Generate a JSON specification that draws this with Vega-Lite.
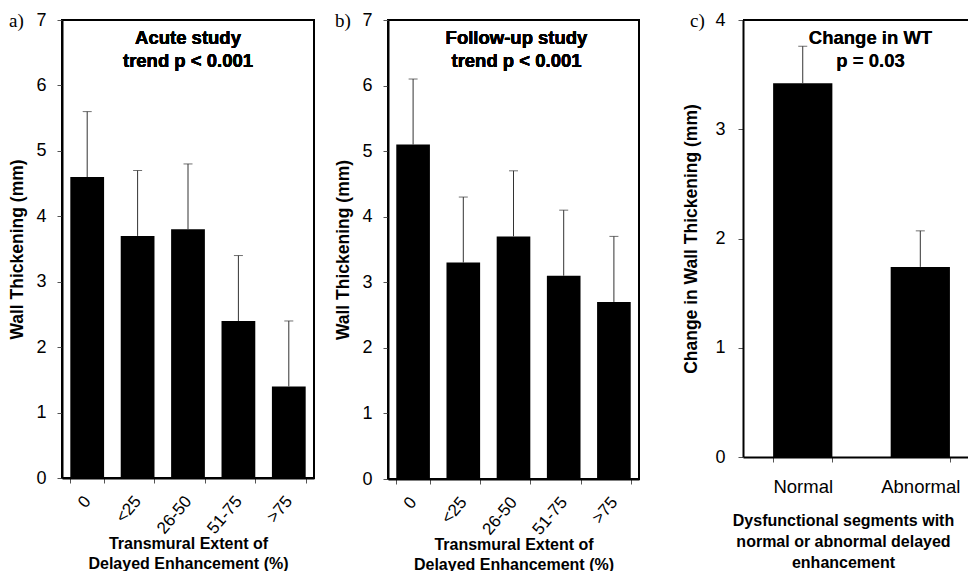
{
  "$schema": "https://vega.github.io/schema/vega-lite/v6.json",
  "padding": {"left": 7, "top": 10, "right": 0, "bottom": 0},
  "background": "white",
  "datasets": {
    "acute": [
      {"g": "0", "mean": 4.6, "upper": 5.6},
      {"g": "<25", "mean": 3.7, "upper": 4.7},
      {"g": "26-50", "mean": 3.8, "upper": 4.8},
      {"g": "51-75", "mean": 2.4, "upper": 3.4},
      {"g": ">75", "mean": 1.4, "upper": 2.4}
    ],
    "followup": [
      {"g": "0", "mean": 5.1, "upper": 6.1},
      {"g": "<25", "mean": 3.3, "upper": 4.3},
      {"g": "26-50", "mean": 3.7, "upper": 4.7},
      {"g": "51-75", "mean": 3.1, "upper": 4.1},
      {"g": ">75", "mean": 2.7, "upper": 3.7}
    ],
    "change": [
      {"g": "Normal", "mean": 3.42, "upper": 3.76},
      {"g": "Abnormal", "mean": 1.74, "upper": 2.07}
    ]
  },
  "spacing": 18,
  "hconcat": [
    {
      "title": {"text": "a)", "anchor": "start", "frame": "bounds", "font": "Liberation Serif", "fontSize": 19, "fontWeight": "normal", "offset": -20, "color": "black"},
      "width": 252,
      "height": 458,
      "data": {"name": "acute"},
      "layer": [
        {
          "mark": {"type": "bar", "color": "black"},
          "encoding": {
            "x": {"field": "g", "type": "nominal", "sort": null,
              "scale": {"paddingInner": 0.33, "paddingOuter": 0.165},
              "axis": {"title": ["Transmural Extent of", "Delayed Enhancement (%)"], "labelAngle": -50, "labelFontSize": 17, "labelPadding": 15, "tickBand": "extent", "titlePadding": -1, "titleFontSize": 16, "titleLineHeight": 20}},
            "y": {"field": "mean", "type": "quantitative",
              "scale": {"domain": [0, 7], "nice": false},
              "axis": {"title": "Wall Thickening (mm)", "values": [0, 1, 2, 3, 4, 5, 6, 7], "format": "d", "labelPadding": 11, "titlePadding": 9}}
          }
        },
        {
          "mark": {"type": "rule", "color": "#333", "strokeWidth": 1},
          "encoding": {
            "x": {"field": "g", "type": "nominal", "sort": null},
            "y": {"field": "mean", "type": "quantitative"},
            "y2": {"field": "upper"}
          }
        },
        {
          "mark": {"type": "tick", "color": "#333", "thickness": 1, "size": 9},
          "encoding": {
            "x": {"field": "g", "type": "nominal", "sort": null},
            "y": {"field": "upper", "type": "quantitative"}
          }
        },
        {
          "mark": {"type": "text", "fontWeight": "bold", "fontSize": 18.5, "lineHeight": 23, "baseline": "middle", "align": "center", "color": "black"},
          "encoding": {
            "y": {"datum": 6.725, "type": "quantitative"},
            "text": {"value": ["Acute study", "trend p < 0.001"]}
          }
        }
      ]
    },
    {
      "spacing": 42,
      "hconcat": [
        {
          "title": {"text": "b)", "anchor": "start", "frame": "bounds", "font": "Liberation Serif", "fontSize": 19, "fontWeight": "normal", "offset": -20, "color": "black"},
          "width": 251,
          "height": 459,
          "data": {"name": "followup"},
          "layer": [
            {
              "mark": {"type": "bar", "color": "black"},
              "encoding": {
                "x": {"field": "g", "type": "nominal", "sort": null,
                  "scale": {"paddingInner": 0.33, "paddingOuter": 0.165},
                  "axis": {"title": ["Transmural Extent of", "Delayed Enhancement (%)"], "labelAngle": -50, "labelFontSize": 17, "labelPadding": 15, "tickBand": "extent", "titlePadding": -1, "titleFontSize": 16, "titleLineHeight": 20}},
                "y": {"field": "mean", "type": "quantitative",
                  "scale": {"domain": [0, 7], "nice": false},
                  "axis": {"title": "Wall Thickening (mm)", "values": [0, 1, 2, 3, 4, 5, 6, 7], "format": "d", "labelPadding": 11, "titlePadding": 9}}
              }
            },
            {
              "mark": {"type": "rule", "color": "#333", "strokeWidth": 1},
              "encoding": {
                "x": {"field": "g", "type": "nominal", "sort": null},
                "y": {"field": "mean", "type": "quantitative"},
                "y2": {"field": "upper"}
              }
            },
            {
              "mark": {"type": "tick", "color": "#333", "thickness": 1, "size": 9},
              "encoding": {
                "x": {"field": "g", "type": "nominal", "sort": null},
                "y": {"field": "upper", "type": "quantitative"}
              }
            },
            {
              "mark": {"type": "text", "fontWeight": "bold", "fontSize": 18.5, "lineHeight": 23, "baseline": "middle", "align": "center", "color": "black", "dx": 3},
              "encoding": {
                "y": {"datum": 6.725, "type": "quantitative"},
                "text": {"value": ["Follow-up study", "trend p < 0.001"]}
              }
            }
          ]
        },
        {
          "title": {"text": "c)", "anchor": "start", "frame": "bounds", "font": "Liberation Serif", "fontSize": 19, "fontWeight": "normal", "offset": -20, "color": "black", "dx": 7},
          "width": 225,
          "height": 437,
          "view": {"stroke": null},
          "data": {"name": "change"},
          "layer": [
            {
              "mark": {"type": "bar", "color": "black"},
              "encoding": {
                "x": {"field": "g", "type": "nominal", "sort": null,
                  "scale": {"paddingInner": 0.496, "paddingOuter": 0.205, "align": 0.625},
                  "axis": {"title": ["Dysfunctional segments with", "normal or abnormal delayed", "enhancement"], "domain": true, "labelAngle": 0, "labelFontSize": 18.5, "labelPadding": 15, "tickBand": "extent", "titlePadding": 17, "titleFontSize": 16, "titleLineHeight": 21, "titleX": 100}},
                "y": {"field": "mean", "type": "quantitative",
                  "scale": {"domain": [0, 4], "nice": false},
                  "axis": {"title": "Change in Wall Thickening (mm)", "domain": true, "values": [0, 1, 2, 3, 4], "format": "d", "labelPadding": 13, "titlePadding": 14}}
              }
            },
            {
              "mark": {"type": "rule", "color": "#333", "strokeWidth": 1},
              "encoding": {
                "x": {"field": "g", "type": "nominal", "sort": null},
                "y": {"field": "mean", "type": "quantitative"},
                "y2": {"field": "upper"}
              }
            },
            {
              "mark": {"type": "tick", "color": "#333", "thickness": 1, "size": 9},
              "encoding": {
                "x": {"field": "g", "type": "nominal", "sort": null},
                "y": {"field": "upper", "type": "quantitative"}
              }
            },
            {
              "mark": {"type": "rule", "color": "black", "strokeWidth": 2},
              "encoding": {
                "y": {"datum": 4, "type": "quantitative"}
              }
            },
            {
              "mark": {"type": "text", "fontWeight": "bold", "fontSize": 18.5, "lineHeight": 23, "baseline": "middle", "align": "center", "color": "black", "dx": 15},
              "encoding": {
                "y": {"datum": 3.835, "type": "quantitative"},
                "text": {"value": ["Change in WT", "p = 0.03"]}
              }
            }
          ]
        }
      ]
    }
  ],
  "config": {
    "font": "Liberation Sans",
    "view": {"stroke": "black", "strokeWidth": 2},
    "axis": {
      "labelFont": "Liberation Sans",
      "titleFont": "Liberation Sans",
      "labelFontSize": 18,
      "labelColor": "black",
      "titleColor": "black",
      "titleFontSize": 17.5,
      "titleFontWeight": "bold",
      "tickColor": "#555",
      "tickSize": 5,
      "domainColor": "black",
      "domainWidth": 2,
      "grid": false
    },
    "title": {"color": "black"}
  }
}
